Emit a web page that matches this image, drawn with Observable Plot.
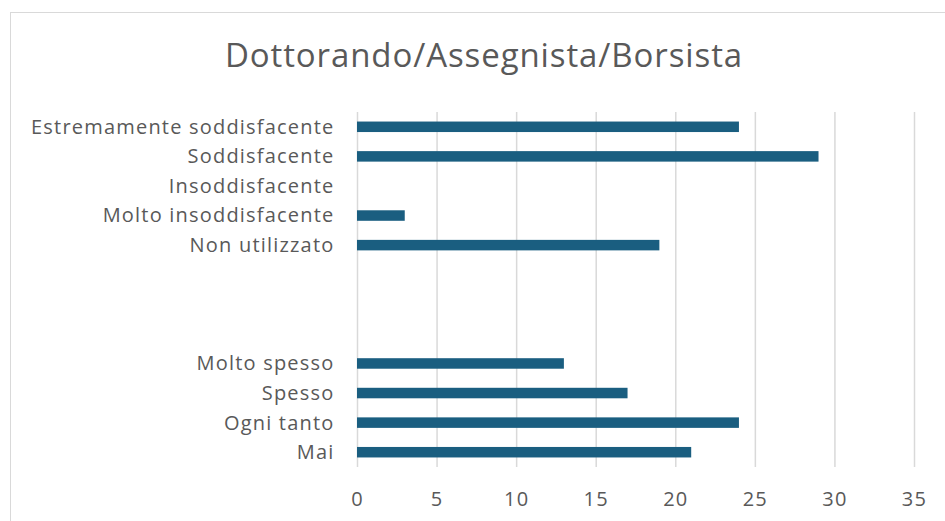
<!DOCTYPE html>
<html>
<head>
<meta charset="utf-8">
<script src="https://cdn.jsdelivr.net/npm/d3@7"></script>
<script src="https://cdn.jsdelivr.net/npm/@observablehq/plot@0.6"></script>
<style>
  html, body { margin: 0; padding: 0; background: #fff; overflow: hidden; width: 945px; height: 521px; }
  #frame { position: absolute; left: 10px; top: 12px; width: 1000px; height: 600px; border: 1.5px solid #d9d9d9; box-sizing: border-box; }
  #title { position: absolute; left: 0; top: 0; width: 968px; height: 100px; text-align: center; font-family: "Open Sans", sans-serif; font-size: 33px; letter-spacing: 0.9px; color: #595959; line-height: 1; padding-top: 37.5px; box-sizing: border-box; }
  #chart { position: absolute; left: 0; top: 100px; }
  #chart svg text { letter-spacing: 1.2px; }
</style>
</head>
<body>
<div id="frame"></div>
<div id="title">Dottorando/Assegnista/Borsista</div>
<div id="chart"></div>
<script>
const categories = [
  "Estremamente soddisfacente",
  "Soddisfacente",
  "Insoddisfacente",
  "Molto insoddisfacente",
  "Non utilizzato",
  " ",
  "  ",
  "   ",
  "Molto spesso",
  "Spesso",
  "Ogni tanto",
  "Mai"
];
const values = [24, 29, 0, 3, 19, null, null, null, 13, 17, 24, 21];
const xTicks = [0, 5, 10, 15, 20, 25, 30, 35];

const data = categories.map((c, i) => ({category: c, value: values[i]})).filter(d => d.value != null);

const chart = Plot.plot({
  width: 945,
  height: 421,
  marginTop: 12,
  marginBottom: 54,
  marginLeft: 357,
  marginRight: 31,
  style: { fontFamily: "'Open Sans', sans-serif", fontSize: "20px", color: "#595959", background: "transparent" },
  x: { domain: [0, 35], ticks: xTicks, label: null },
  y: { domain: categories, label: null, paddingInner: 0.645, paddingOuter: 0.3225, round: false },
  marks: [
    Plot.gridX(xTicks, { stroke: "#d9d9d9", strokeOpacity: 1, strokeWidth: 1.5 }),
    Plot.barX(data, { x: "value", y: "category", fill: "#1a5e80" }),
    Plot.axisX(xTicks, { tickSize: 0, tickPadding: 24, fill: "#595959", fontSize: 20, label: null }),
    Plot.axisY({ tickSize: 0, tickPadding: 23, fill: "#595959", fontSize: 20, label: null, tickFormat: d => d.trim() })
  ]
});
document.getElementById("chart").appendChild(chart);
</script>
</body>
</html>
